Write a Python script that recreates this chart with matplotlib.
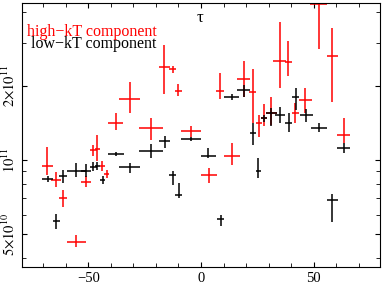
import numpy as np
import matplotlib.pyplot as plt
from matplotlib.ticker import FixedLocator, FixedFormatter, MultipleLocator

plt.rcParams['font.family'] = ['Liberation Serif', 'DejaVu Serif']
plt.rcParams['mathtext.fontset'] = 'stix'

# high-kT component, y values in units of 1e10
hi_x = [-68.2, -64.4, -61.2, -55.3, -51.0, -47.8, -46.0, -43.8, -41.9, -37.8, -31.6,
        -22.2, -16.3, -12.6, -10.1, -4.4, 3.6, 8.4, 13.9, 18.9, 23.0, 25.8, 28.0,
        31.2, 34.9, 38.8, 41.9, 46.4, 52.2, 58.4, 63.3]
hi_xerr = [2.4, 2.0, 1.8, 4.3, 2.2, 1.6, 1.3, 1.1, 1.2, 3.3, 4.6, 5.2, 2.4, 1.7, 1.5,
           4.6, 3.6, 1.8, 3.5, 2.9, 1.5, 1.2, 1.3, 2.4, 2.8, 1.6, 1.7, 3.0, 3.6, 2.6, 2.9]
hi_y = [9.48, 8.29, 7.05, 4.65, 8.18, 11.0, 11.1, 9.43, 8.80, 14.2, 17.8, 13.5, 24.0,
        23.5, 19.1, 13.1, 8.69, 19.1, 10.4, 21.3, 19.0, 14.1, 14.8, 15.5, 25.3, 25.0,
        15.5, 17.5, 43.0, 26.6, 12.6]
hi_ylo = [8.69, 7.79, 6.46, 4.44, 7.79, 10.4, 9.9, 9.0, 8.45, 13.2, 15.5, 12.1, 18.5,
          22.7, 18.3, 12.4, 8.09, 17.7, 9.54, 18.0, 14.1, 12.4, 13.7, 13.9, 19.6, 22.0,
          14.2, 15.5, 28.2, 17.3, 11.7]
hi_yhi = [11.3, 8.91, 7.55, 4.95, 8.61, 11.5, 12.6, 9.88, 9.13, 15.5, 20.7, 14.9, 29.4,
          24.1, 20.4, 13.8, 9.25, 22.65, 11.7, 25.3, 23.5, 15.2, 16.9, 18.1, 36.5, 30.6,
          17.0, 19.6, 60.0, 34.3, 14.8]

# low-kT component
lo_x = [-68.1, -64.3, -61.2, -55.3, -51.1, -47.9, -46.0, -43.7, -37.6, -31.6, -22.2,
        -16.2, -12.6, -9.9, -4.4, 3.3, 8.7, 13.6, 18.9, 23.0, 25.5, 27.8, 31.2, 35.1,
        38.9, 42.0, 46.7, 52.4, 58.4, 63.3]
lo_xerr = [2.4, 1.6, 1.8, 4.3, 2.2, 1.6, 1.1, 1.1, 3.6, 4.6, 5.2, 2.4, 1.7, 1.5, 4.6,
           3.5, 1.7, 3.3, 2.9, 1.3, 1.2, 1.3, 2.4, 2.4, 1.6, 1.7, 2.9, 3.6, 2.6, 2.9]
lo_y = [8.37, 5.65, 8.63, 9.02, 9.06, 9.37, 9.45, 8.32, 10.6, 9.34, 10.9, 12.0, 8.73,
        7.20, 12.2, 10.4, 5.75, 18.1, 19.3, 12.9, 9.05, 14.8, 15.5, 15.2, 14.1, 18.1,
        15.2, 13.5, 6.88, 11.2]
lo_ylo = [8.16, 5.23, 8.04, 8.55, 8.55, 9.05, 9.11, 7.99, 10.4, 8.83, 10.2, 11.2, 7.91,
          6.99, 12.0, 10.2, 5.39, 17.5, 18.1, 11.5, 8.43, 14.3, 13.8, 14.1, 13.0, 16.0,
          14.3, 13.0, 5.61, 10.7]
lo_yhi = [8.61, 6.03, 9.11, 9.75, 9.61, 9.79, 9.86, 8.63, 10.8, 9.70, 11.6, 12.5, 9.05,
          8.04, 12.4, 11.2, 5.97, 18.6, 20.2, 14.1, 10.2, 15.2, 16.3, 16.5, 15.6, 19.7,
          16.1, 14.1, 7.27, 11.7]

ytick_vals = [5e10, 1e11, 2e11]
ytick_labels = [r'$5{\times}10^{10}$', r'$10^{11}$', r'$2{\times}10^{11}$']


def draw(ax, x, xe, y, ylo, yhi, color):
    y = np.array(y) * 1e10
    ylo = np.array(ylo) * 1e10
    yhi = np.array(yhi) * 1e10
    ax.errorbar(x, y, xerr=xe, yerr=[y - ylo, yhi - y], fmt='none',
                ecolor=color, elinewidth=1.1, capsize=0)


fig = plt.figure(figsize=(3.82, 2.83), dpi=100)
ax = fig.add_axes([22/382, 16.0/283, 358/382, 264/283])

draw(ax, hi_x, hi_xerr, hi_y, hi_ylo, hi_yhi, '#ff0000')
draw(ax, lo_x, lo_xerr, lo_y, lo_ylo, lo_yhi, 'black')

ax.set_yscale('log')
ax.set_xlim(-79.5, 79.5)
ax.set_ylim(3.68e10, 4.35e11)

ax.xaxis.set_major_locator(FixedLocator([-50, 0, 50]))
ax.xaxis.set_minor_locator(MultipleLocator(10))
ax.set_xticklabels(['\u221250', '0', '50'])
ax.yaxis.set_major_locator(FixedLocator(ytick_vals))
ax.yaxis.set_major_formatter(FixedFormatter(ytick_labels))
ax.yaxis.set_minor_locator(FixedLocator([4e10, 6e10, 7e10, 8e10, 9e10, 3e11, 4e11]))
ax.yaxis.set_minor_formatter(FixedFormatter([]))
ax.tick_params(which='both', direction='in', top=True, right=True, labelsize=10.5)
ax.tick_params(which='major', length=3.8)
ax.tick_params(which='minor', length=3.2)
ax.tick_params(axis='y', pad=3)
ax.tick_params(axis='x', pad=3.5)
for lab in ax.get_yticklabels():
    lab.set_rotation(90)
    lab.set_va('center')

ax.text(0.376, 0.891, 'high\u2212kT component', color='#ff0000', fontsize=11.5,
        ha='right', va='center', transform=ax.transAxes)
ax.text(0.376, 0.843, 'low\u2212kT component', color='black', fontsize=11.5,
        ha='right', va='center', transform=ax.transAxes)
ax.text(0.497, 0.943, '\u03c4', fontsize=12, ha='center', va='center',
        transform=ax.transAxes)

fig.savefig('out.png', dpi=100)
